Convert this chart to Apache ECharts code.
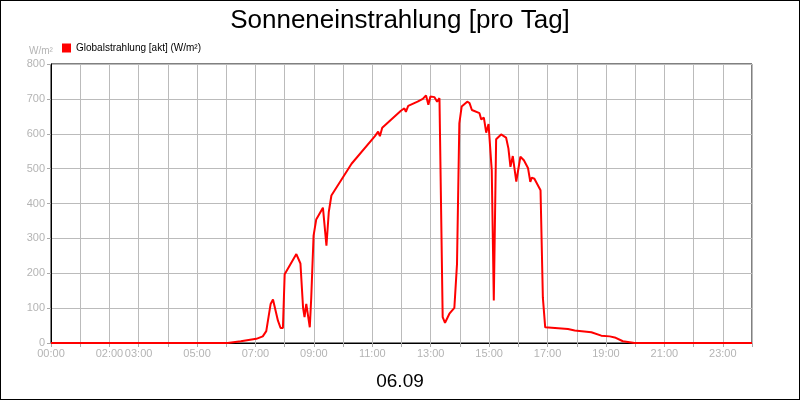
<!DOCTYPE html>
<html><head><meta charset="utf-8">
<script src="https://cdn.jsdelivr.net/npm/echarts@6/dist/echarts.min.js"></script>
<style>html,body{margin:0;padding:0;background:#fff}#c{width:798px;height:398px;border:1px solid #000}</style>
</head><body><div id="c"></div>
<script>
const hours = [0,6.05,6.5,7.03,7.25,7.37,7.52,7.6,7.65,7.77,7.86,7.94,8.0,8.4,8.46,8.54,8.63,8.68,8.74,8.8,8.86,8.91,8.99,9.08,9.31,9.37,9.43,9.51,9.6,10.29,11.09,11.2,11.26,11.34,11.98,12.1,12.15,12.23,12.55,12.73,12.84,12.92,12.99,13.13,13.22,13.3,13.35,13.41,13.49,13.64,13.81,13.9,13.98,14.06,14.25,14.33,14.41,14.47,14.67,14.73,14.82,14.9,14.98,15.01,15.09,15.16,15.24,15.41,15.58,15.66,15.73,15.81,15.93,16.07,16.19,16.33,16.41,16.46,16.55,16.76,16.84,16.92,17.7,17.93,18.5,18.84,19.13,19.3,19.58,19.98,24];
const values = [0,0,5,12,19,34,112,125,125,64,43,43,197,255,255,228,101,74,112,112,45,130,308,354,388,388,279,375,423,514,593,606,593,617,666,673,663,680,692,700,710,683,707,705,692,702,702,74,58,84,101,226,630,678,692,688,668,670,659,641,646,603,628,628,495,122,584,598,589,558,505,536,463,534,524,502,462,474,471,438,130,45,40,36,31,21,19,16,5,0,0];
const tickLabels = {0:'00:00',2:'02:00',3:'03:00',5:'05:00',7:'07:00',9:'09:00',11:'11:00',13:'13:00',15:'15:00',17:'17:00',19:'19:00',21:'21:00',23:'23:00'};
const chart = echarts.init(document.getElementById('c'));
chart.setOption({
  animation:false,
  title:[{text:'Sonneneinstrahlung [pro Tag]',left:'center',top:2,textStyle:{fontFamily:'Liberation Sans',fontSize:26,fontWeight:'normal',color:'#000'}},
         {text:'06.09',left:'center',top:366,textStyle:{fontFamily:'Liberation Sans',fontSize:19,fontWeight:'normal',color:'#000'}},
         {text:'W/m²',left:23,top:40,textStyle:{fontFamily:'Liberation Sans',fontSize:10,fontWeight:'normal',color:'#b4b4b4'}}],
  legend:{left:56,top:37,itemWidth:9,itemHeight:9,itemGap:4,icon:'rect',textStyle:{fontFamily:'Liberation Sans',fontSize:10,color:'#000'},data:['Globalstrahlung [akt] (W/m²)']},
  grid:{left:50,right:47,top:63,bottom:56,show:true,borderColor:'#000',borderWidth:1},
  xAxis:{type:'value',min:0,max:24,interval:1,
    axisLine:{lineStyle:{color:'#000'}},axisTick:{show:true,length:4,lineStyle:{color:'#aaa'}},
    splitLine:{lineStyle:{color:'#bbb'}},
    axisLabel:{color:'#b4b4b4',fontFamily:'Liberation Sans',fontSize:11,margin:5,showMaxLabel:true,
      formatter:v=>tickLabels[v]||''}},
  yAxis:{type:'value',min:0,max:800,interval:100,
    axisLine:{show:true,lineStyle:{color:'#000'}},axisTick:{show:true,length:4,lineStyle:{color:'#aaa'}},
    splitLine:{lineStyle:{color:'#bbb'}},
    axisLabel:{color:'#b4b4b4',fontFamily:'Liberation Sans',fontSize:11,margin:6}},
  series:[{name:'Globalstrahlung [akt] (W/m²)',type:'line',showSymbol:false,color:'#ff0000',
    lineStyle:{width:2,color:'#ff0000'},data:hours.map((h,i)=>[h,values[i]])}]
});
</script></body></html>
